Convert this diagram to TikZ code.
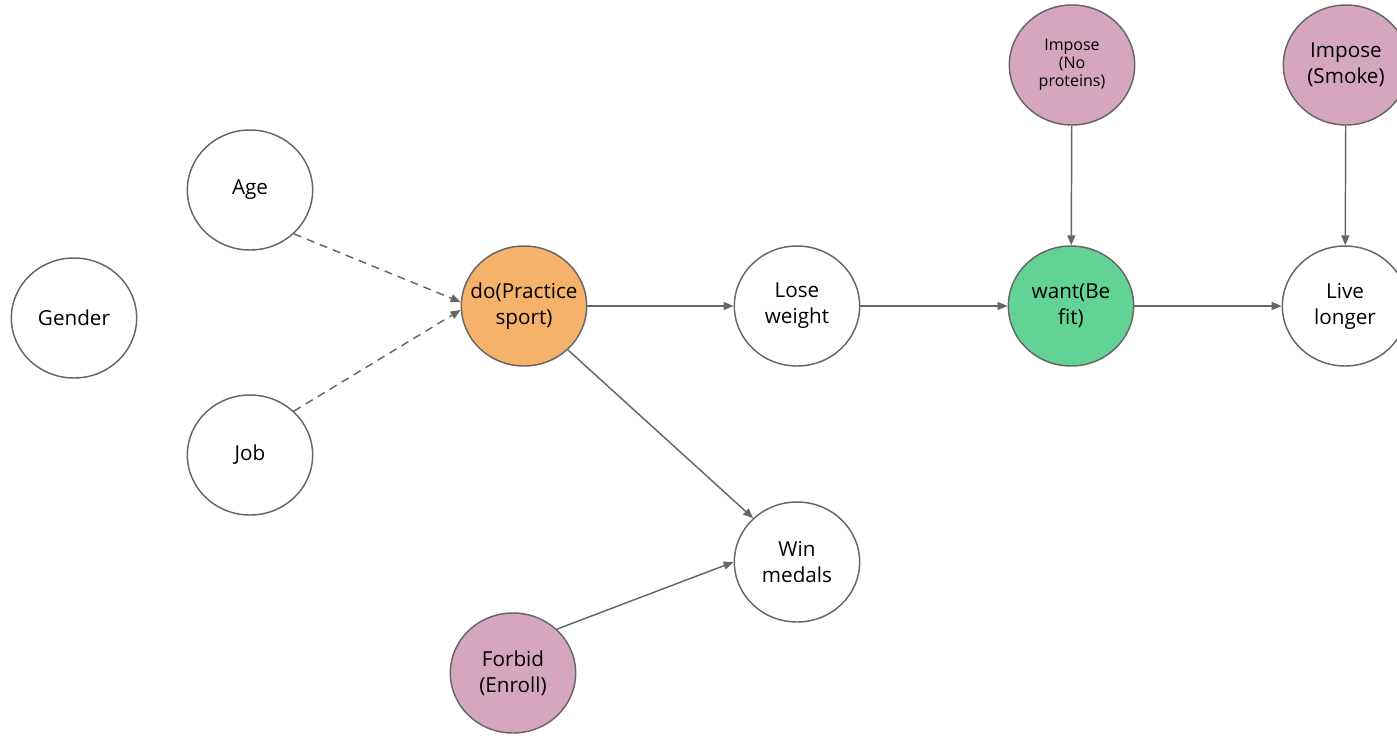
\documentclass[tikz,border=0pt]{standalone}
\usepackage{fontspec}
\setmainfont{Open Sans}[Ligatures=NoCommon]
\usepackage{tikz}
\usetikzlibrary{arrows.meta,shapes.geometric}

\definecolor{edgegray}{HTML}{666666}
\definecolor{doorange}{HTML}{F6B26B}
\definecolor{wantgreen}{HTML}{62D395}
\definecolor{imposepink}{HTML}{D5A6BD}

\begin{document}
\begin{tikzpicture}
[x=0.75pt, y=-0.75pt,
var/.style={ellipse, draw=edgegray, line width=1.1pt, fill=white,
  minimum width=94pt, minimum height=90pt, inner sep=-12pt, align=center,
  font=\fontsize{15.5}{19.5}\selectfont},
small/.style={font=\fontsize{12}{13.5}\selectfont},
link/.style={-{Triangle[length=7.5pt,width=6pt]}, draw=edgegray, line width=1.1pt},
semi/.style={link, dash pattern=on 6pt off 4.5pt}]
\useasboundingbox (0,0) rectangle (1397,736);

\node (gender) at (74,318) [var] {Gender};
\node (age) at (250,190) [var] {Age};
\node (job) at (250,455) [var] {Job};
\node (dosport) at (524,306) [var, fill=doorange] {do(Practice\\sport)};
\node (lose) at (797,306) [var] {Lose\\weight};
\node (befit) at (1071,306) [var, fill=wantgreen] {want(Be\\fit)};
\node (live) at (1345,306) [var] {Live\\longer};
\node (noprot) at (1072,65) [var, small, fill=imposepink] {Impose\\(No\\proteins)};
\node (smoke) at (1346,65) [var, fill=imposepink] {Impose\\(Smoke)};
\node (medals) at (797,562) [var] {Win\\medals};
\node (enroll) at (513,673) [var, fill=imposepink] {Forbid\\(Enroll)};

\draw (age.-45) edge [semi] ([yshift=3pt]dosport.west);
\draw (job.45) edge [semi] ([yshift=-3pt]dosport.west);
\draw (dosport) edge [link] (lose);
\draw (lose) edge [link] (befit);
\draw (befit) edge [link] (live);
\draw (noprot) edge [link] (befit);
\draw (smoke) edge [link] (live);
\draw (dosport.-45) edge [link] (medals.135);
\draw (enroll.45) edge [link] (medals.west);

\end{tikzpicture}
\end{document}
